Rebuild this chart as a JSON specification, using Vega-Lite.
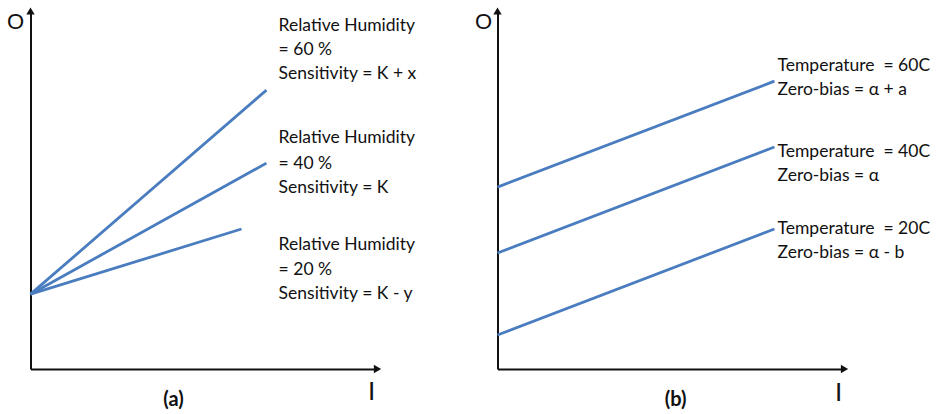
{
  "$schema": "https://vega.github.io/schema/vega-lite/v6.json",
  "background": "white",
  "padding": {"left": 6.5, "top": 7, "right": 0, "bottom": 0},
  "spacing": 120,
  "bounds": "flush",
  "config": {
    "view": {"stroke": null},
    "axis": {"domain": true, "domainColor": "#111111", "domainWidth": 2, "ticks": false, "labels": false, "grid": false, "title": null},
    "text": {"font": "Lato", "color": "#111111"}
  },
  "datasets": {
    "lines_a": [
      {"series": "RH 60 %", "I": 0, "O": 20.9},
      {"series": "RH 60 %", "I": 68.0, "O": 77.9},
      {"series": "RH 40 %", "I": 0, "O": 20.9},
      {"series": "RH 40 %", "I": 68.0, "O": 57.5},
      {"series": "RH 20 %", "I": 0, "O": 20.9},
      {"series": "RH 20 %", "I": 60.8, "O": 39.1}
    ],
    "labels_a": [
      {"I": 71.5, "O": 95.9, "text": "Relative Humidity"},
      {"I": 71.5, "O": 89.2, "text": "= 60 %"},
      {"I": 71.5, "O": 82.5, "text": "Sensitivity = K + x"},
      {"I": 71.5, "O": 64.6, "text": "Relative Humidity"},
      {"I": 71.5, "O": 57.3, "text": "= 40 %"},
      {"I": 71.5, "O": 50.6, "text": "Sensitivity = K"},
      {"I": 71.5, "O": 34.7, "text": "Relative Humidity"},
      {"I": 71.5, "O": 27.7, "text": "= 20 %"},
      {"I": 71.5, "O": 21.0, "text": "Sensitivity = K - y"}
    ],
    "lines_b": [
      {"series": "T 60C", "I": 0, "O": 50.8},
      {"series": "T 60C", "I": 79.8, "O": 80.4},
      {"series": "T 40C", "I": 0, "O": 32.4},
      {"series": "T 40C", "I": 79.8, "O": 62.0},
      {"series": "T 20C", "I": 0, "O": 9.5},
      {"series": "T 20C", "I": 79.8, "O": 39.1}
    ],
    "labels_b": [
      {"I": 80.7, "O": 84.6, "text": "Temperature\u00a0 = 60C"},
      {"I": 80.7, "O": 77.9, "text": "Zero-bias = α + a"},
      {"I": 80.7, "O": 60.6, "text": "Temperature\u00a0 = 40C"},
      {"I": 80.7, "O": 53.9, "text": "Zero-bias = α"},
      {"I": 80.7, "O": 39.1, "text": "Temperature\u00a0 = 20C"},
      {"I": 80.7, "O": 32.4, "text": "Zero-bias = α - b"}
    ],
    "arrows": [
      {"I": 0, "O": 100, "dir": "up"},
      {"I": 100, "O": 0, "dir": "right"}
    ],
    "axis_o_a": [{"I": -4.3, "O": 96.9, "text": "O"}],
    "axis_i_a": [{"I": 98.3, "O": -6.4, "text": "I"}],
    "caption_a": [{"I": 41.2, "O": -8.7, "text": "(a)"}],
    "axis_o_b": [{"I": -4.0, "O": 96.9, "text": "O"}],
    "axis_i_b": [{"I": 98.3, "O": -6.7, "text": "I"}],
    "caption_b": [{"I": 51.3, "O": -8.7, "text": "(b)"}]
  },
  "hconcat": [
    {
      "width": 347,
      "height": 358,
      "encoding": {
        "x": {"field": "I", "type": "quantitative", "scale": {"domain": [0, 100], "nice": false, "zero": false}, "axis": {}},
        "y": {"field": "O", "type": "quantitative", "scale": {"domain": [0, 100], "nice": false, "zero": false}, "axis": {}}
      },
      "layer": [
        {"data": {"name": "lines_a"}, "mark": {"type": "line", "color": "#4a7dbf", "strokeWidth": 2.8, "clip": false}, "encoding": {"detail": {"field": "series"}}},
        {"data": {"name": "labels_a"}, "mark": {"type": "text", "align": "left", "baseline": "middle", "fontSize": 17.5}, "encoding": {"text": {"field": "text"}}},
        {"data": {"name": "arrows"}, "mark": {"type": "point", "filled": true, "opacity": 1, "size": 70, "color": "#111111"}, "encoding": {"shape": {"field": "dir", "type": "nominal", "scale": {"domain": ["up", "right"], "range": ["triangle-up", "triangle-right"]}, "legend": null}}},
        {"data": {"name": "axis_o_a"}, "mark": {"type": "text", "align": "center", "baseline": "middle", "fontSize": 22, "font": "Liberation Sans"}, "encoding": {"text": {"field": "text"}}},
        {"data": {"name": "axis_i_a"}, "mark": {"type": "text", "align": "center", "baseline": "middle", "fontSize": 26, "font": "Liberation Sans"}, "encoding": {"text": {"field": "text"}}},
        {"data": {"name": "caption_a"}, "mark": {"type": "text", "align": "center", "baseline": "middle", "fontSize": 20, "fontWeight": "bold"}, "encoding": {"text": {"field": "text"}}}
      ]
    },
    {
      "width": 347,
      "height": 358,
      "encoding": {
        "x": {"field": "I", "type": "quantitative", "scale": {"domain": [0, 100], "nice": false, "zero": false}, "axis": {}},
        "y": {"field": "O", "type": "quantitative", "scale": {"domain": [0, 100], "nice": false, "zero": false}, "axis": {}}
      },
      "layer": [
        {"data": {"name": "lines_b"}, "mark": {"type": "line", "color": "#4a7dbf", "strokeWidth": 2.8, "clip": false}, "encoding": {"detail": {"field": "series"}}},
        {"data": {"name": "labels_b"}, "mark": {"type": "text", "align": "left", "baseline": "middle", "fontSize": 17.5}, "encoding": {"text": {"field": "text"}}},
        {"data": {"name": "arrows"}, "mark": {"type": "point", "filled": true, "opacity": 1, "size": 70, "color": "#111111"}, "encoding": {"shape": {"field": "dir", "type": "nominal", "scale": {"domain": ["up", "right"], "range": ["triangle-up", "triangle-right"]}, "legend": null}}},
        {"data": {"name": "axis_o_b"}, "mark": {"type": "text", "align": "center", "baseline": "middle", "fontSize": 22, "font": "Liberation Sans"}, "encoding": {"text": {"field": "text"}}},
        {"data": {"name": "axis_i_b"}, "mark": {"type": "text", "align": "center", "baseline": "middle", "fontSize": 26, "font": "Liberation Sans"}, "encoding": {"text": {"field": "text"}}},
        {"data": {"name": "caption_b"}, "mark": {"type": "text", "align": "center", "baseline": "middle", "fontSize": 20, "fontWeight": "bold"}, "encoding": {"text": {"field": "text"}}}
      ]
    }
  ]
}
